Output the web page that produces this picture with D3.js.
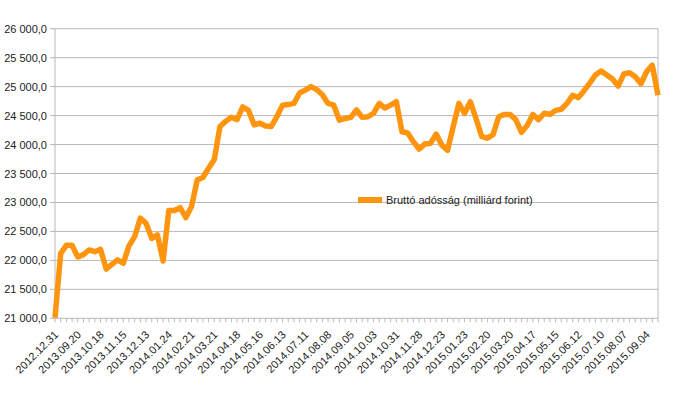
<!DOCTYPE html>
<html>
<head>
<meta charset="utf-8">
<script src="https://cdn.jsdelivr.net/npm/d3@7"></script>
<style>
  body { margin: 0; background: #fff; }
  text { font-family: "Liberation Sans", Arial, sans-serif; fill: #222; }
</style>
</head>
<body>
<svg id="chart" width="683" height="399"></svg>
<script>
// weekly gross debt data (milliárd forint)
var dates = [
  "2012.12.31","2013.08.30","2013.09.06","2013.09.13","2013.09.20","2013.09.27","2013.10.04","2013.10.11",
  "2013.10.18","2013.10.25","2013.11.01","2013.11.08","2013.11.15","2013.11.22","2013.11.29","2013.12.06",
  "2013.12.13","2013.12.20","2014.01.10","2014.01.17","2014.01.24","2014.01.31","2014.02.07","2014.02.14",
  "2014.02.21","2014.02.28","2014.03.07","2014.03.14","2014.03.21","2014.03.28","2014.04.04","2014.04.11",
  "2014.04.18","2014.04.25","2014.05.02","2014.05.09","2014.05.16","2014.05.23","2014.05.30","2014.06.06",
  "2014.06.13","2014.06.20","2014.06.27","2014.07.04","2014.07.11","2014.07.18","2014.07.25","2014.08.01",
  "2014.08.08","2014.08.15","2014.08.22","2014.08.29","2014.09.05","2014.09.12","2014.09.19","2014.09.26",
  "2014.10.03","2014.10.10","2014.10.17","2014.10.24","2014.10.31","2014.11.07","2014.11.14","2014.11.21",
  "2014.11.28","2014.12.05","2014.12.12","2014.12.19","2014.12.23","2014.12.31","2015.01.09","2015.01.16",
  "2015.01.23","2015.01.30","2015.02.06","2015.02.13","2015.02.20","2015.02.27","2015.03.06","2015.03.13",
  "2015.03.20","2015.03.27","2015.04.03","2015.04.10","2015.04.17","2015.04.24","2015.04.30","2015.05.08",
  "2015.05.15","2015.05.22","2015.05.29","2015.06.05","2015.06.12","2015.06.19","2015.06.26","2015.07.03",
  "2015.07.10","2015.07.17","2015.07.24","2015.07.31","2015.08.07","2015.08.14","2015.08.21","2015.08.28",
  "2015.09.04","2015.09.11","2015.09.18"
];

var debt = [
  21010, 22120, 22260, 22260, 22060, 22100, 22180, 22150,
  22190, 21850, 21930, 22010, 21950, 22250, 22410, 22730,
  22640, 22380, 22440, 21990, 22860, 22860, 22910, 22740,
  22930, 23390, 23430, 23590, 23740, 24310, 24400, 24470,
  24430, 24650, 24590, 24340, 24370, 24320, 24310, 24480,
  24680, 24690, 24710, 24890, 24940, 25000, 24950, 24860,
  24710, 24680, 24420, 24450, 24470, 24600, 24470, 24480,
  24540, 24710, 24630, 24680, 24740, 24220, 24200, 24050,
  23920, 24010, 24020, 24180, 23990, 23900, 24310, 24710,
  24540, 24740, 24450, 24140, 24110, 24170, 24480, 24520,
  24520, 24430, 24210, 24330, 24520, 24430, 24540, 24520,
  24590, 24610, 24710, 24850, 24810, 24930, 25060, 25200,
  25270, 25200, 25130, 25010, 25220, 25240, 25170, 25050,
  25260, 25370, 24850
];

var yTicks = [21000, 21500, 22000, 22500, 23000, 23500, 24000, 24500, 25000, 25500, 26000];
var seriesName = "Bruttó adósság (milliárd forint)";
var labelEvery = 4;

var plotLeft = 55, plotRight = 658, plotTop = 28.7, plotBottom = 318.3;
var gridColor = "#b8b8b8";
var lineColor = "#ff950e";

var huLocale = d3.formatLocale({ decimal: ",", thousands: "\u00a0", grouping: [3], currency: ["", " Ft"] });
var fmt = huLocale.format(",.1f");

var svg = d3.select("#chart");

var x = d3.scalePoint()
  .domain(d3.range(dates.length))
  .range([plotLeft, plotRight]);

var y = d3.scaleLinear()
  .domain([21000, 26000])
  .range([plotBottom, plotTop]);

// horizontal grid
svg.append("g")
  .selectAll("line")
  .data(yTicks)
  .enter()
  .append("line")
  .attr("x1", plotLeft - 5)
  .attr("x2", plotRight)
  .attr("y1", function(d) { return y(d); })
  .attr("y2", function(d) { return y(d); })
  .attr("stroke", gridColor)
  .attr("stroke-width", 1);

// left axis + right border
svg.append("line")
  .attr("x1", plotLeft).attr("x2", plotLeft)
  .attr("y1", plotTop).attr("y2", plotBottom)
  .attr("stroke", gridColor);
svg.append("line")
  .attr("x1", plotRight).attr("x2", plotRight)
  .attr("y1", plotTop).attr("y2", plotBottom)
  .attr("stroke", gridColor);

// y labels
svg.append("g")
  .selectAll("text")
  .data(yTicks)
  .enter()
  .append("text")
  .attr("x", plotLeft - 8)
  .attr("y", function(d) { return y(d) + 4; })
  .attr("text-anchor", "end")
  .style("font-size", "11px")
  .text(function(d) { return fmt(d); });

// x axis ticks
svg.append("g")
  .selectAll("line")
  .data(d3.range(dates.length))
  .enter()
  .append("line")
  .attr("x1", function(d) { return x(d); })
  .attr("x2", function(d) { return x(d); })
  .attr("y1", plotBottom)
  .attr("y2", plotBottom + 4)
  .attr("stroke", gridColor);

// x labels, every 4th week
svg.append("g")
  .selectAll("text")
  .data(d3.range(0, dates.length, labelEvery))
  .enter()
  .append("text")
  .attr("text-anchor", "end")
  .attr("transform", function(d) { return "translate(" + (x(d) + 4) + "," + (plotBottom + 17) + ") rotate(-45)"; })
  .style("font-size", "11px")
  .text(function(d) { return dates[d]; });

// the series
var line = d3.line()
  .x(function(d, i) { return x(i); })
  .y(function(d) { return y(d); });

svg.append("path")
  .datum(debt)
  .attr("d", line)
  .attr("fill", "none")
  .attr("stroke", lineColor)
  .attr("stroke-width", 5.5)
  .attr("stroke-linejoin", "round");

// legend
var legend = svg.append("g").attr("transform", "translate(358,200)");
legend.append("rect")
  .attr("x", 0).attr("y", -3)
  .attr("width", 24).attr("height", 6)
  .attr("fill", lineColor);
legend.append("text")
  .attr("x", 28)
  .attr("y", 4)
  .style("font-size", "11px")
  .text(seriesName);
</script>
</body>
</html>
